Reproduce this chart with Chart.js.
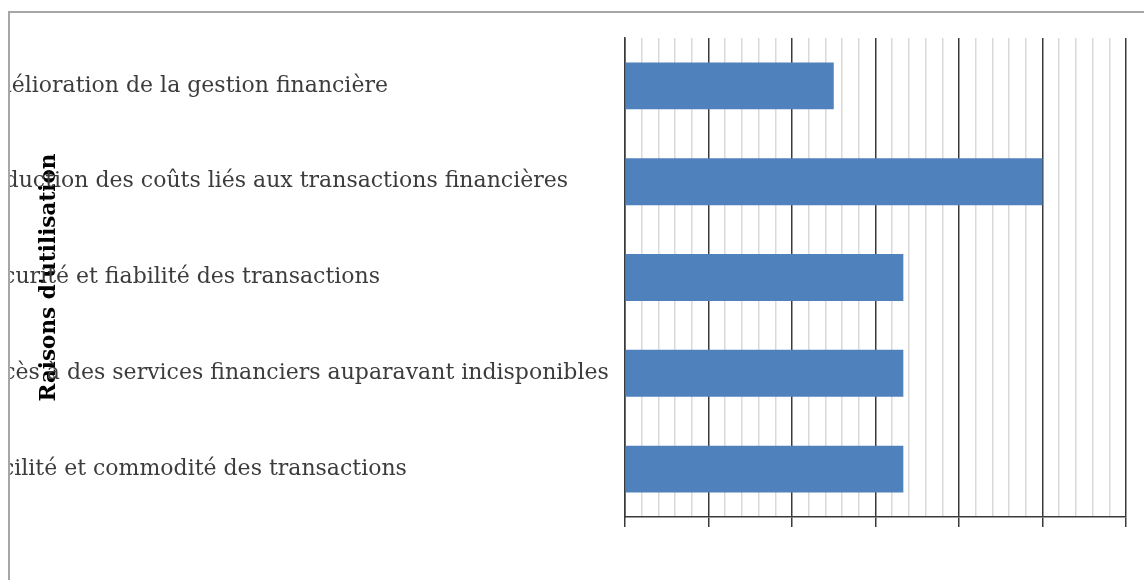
<!DOCTYPE html>
<html>
<head>
<meta charset="utf-8">
<script src="https://cdn.jsdelivr.net/npm/chart.js@4.4.0/dist/chart.umd.min.js"></script>
<style>
  html, body { margin: 0; padding: 0; background: #fff; overflow: hidden; }
  body { width: 1144px; height: 580px; position: relative; }
  #frame {
    position: absolute; left: 8px; top: 11px; right: 0; bottom: 0;
    border-left: 2px solid #a6a6a6; border-top: 2px solid #a6a6a6;
    overflow: hidden;
  }
  #wrap { position: absolute; left: -35px; top: -13px; width: 1169px; height: 580px; }
</style>
</head>
<body>
<div id="frame">
  <div id="wrap"><canvas id="chart"></canvas></div>
</div>
<script>
const categories = [
  'Amélioration de la gestion financière',
  'Réduction des coûts liés aux transactions financières',
  'Sécurité et fiabilité des transactions',
  'Accès à des services financiers auparavant indisponibles',
  'Facilité et commodité des transactions'
];
const values = [3, 6, 4, 4, 4];
const axisMax = 7.2;
const minorStep = 0.24;
const axisTitle = "Raisons d'utilisation";

const labelFont = { family: '"DejaVu Serif", serif', size: 22 };

function init() {
  const ctx = document.getElementById('chart').getContext('2d');
  new Chart(ctx, {
    type: 'bar',
    data: {
      labels: categories,
      datasets: [{
        data: values,
        backgroundColor: '#4f81bd',
        borderWidth: 0,
        barPercentage: 0.49,
        categoryPercentage: 1
      }]
    },
    options: {
      indexAxis: 'y',
      responsive: true,
      maintainAspectRatio: false,
      animation: false,
      layout: { padding: { left: 0, top: 38, right: 18, bottom: 53 } },
      plugins: { legend: { display: false }, tooltip: { enabled: false } },
      scales: {
        x: {
          min: 0,
          max: axisMax,
          ticks: { display: false, stepSize: minorStep },
          grid: {
            color: c => (c.index % 5 === 0 ? '#3a3a3a' : '#d9d9d9'),
            lineWidth: 1.5,
            tickColor: c => (c.index % 5 === 0 ? '#3a3a3a' : 'rgba(0,0,0,0)'),
            tickLength: 10
          },
          border: { display: true, color: '#3a3a3a', width: 1.5 },
          afterFit: s => { s.height = 10; }
        },
        y: {
          grid: { display: false },
          border: { display: true, color: '#3a3a3a', width: 1.5 },
          ticks: { color: '#3c3c3c', font: labelFont, crossAlign: 'far', padding: 0 },
          title: {
            display: true,
            text: axisTitle,
            color: '#000',
            font: { family: '"DejaVu Serif", serif', size: 21.5, weight: 'bold' },
            padding: { top: 62, bottom: 0 }
          },
          afterFit: s => { s.width = 650; }
        }
      }
    }
  });
}

window.addEventListener('DOMContentLoaded', init);
</script>
</body>
</html>
